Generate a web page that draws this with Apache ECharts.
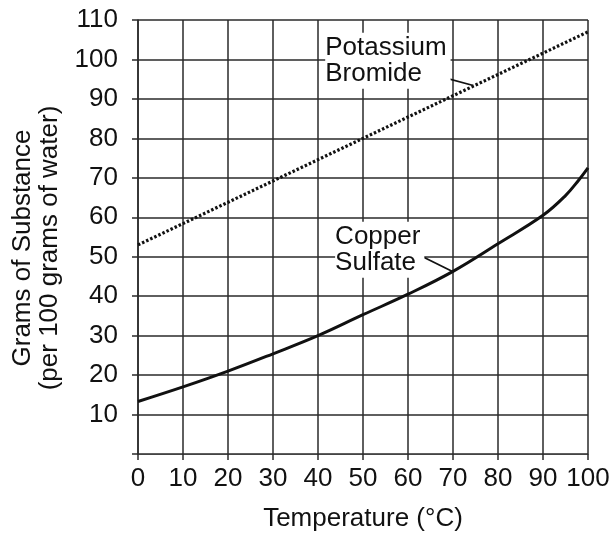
<!DOCTYPE html>
<html>
<head>
<meta charset="utf-8">
<script src="https://cdn.jsdelivr.net/npm/echarts@6/dist/echarts.min.js"></script>
<style>
  html, body { margin: 0; padding: 0; background: #fff; }
  #main { width: 615px; height: 542px; }
</style>
</head>
<body>
<div id="main"></div>
<script>
let chart = echarts.init(document.getElementById('main'));

// Potassium bromide (dotted, almost straight)
let kbrTemps = [0, 10, 20, 30, 40, 50, 60, 70, 80, 90, 100];
let kbrValues = [53, 58.4, 63.8, 69.2, 74.6, 80, 85.4, 90.8, 96.2, 101.6, 107];

// Copper sulfate (solid, curving up)
let cuTemps = [0, 10, 20, 30, 40, 50, 60, 70, 80, 90, 95, 98, 100];
let cuValues = [13.3, 17, 21, 25.4, 30, 35.3, 40.5, 46.3, 53.3, 60.5, 65.5, 69.5, 72.5];

let xTicks = [0, 10, 20, 30, 40, 50, 60, 70, 80, 90, 100];
let yTicks = [0, 10, 20, 30, 40, 50, 60, 70, 80, 90, 100, 110];

function pairs(xs, ys) {
    return xs.map(function (x, i) { return [x, ys[i]]; });
}

let font = 'Liberation Sans, Arial, Helvetica, sans-serif';
let ink = '#111';
let gridColor = '#2a2a2a';

// label text + leader line, in data units
function annotation(text, at, from, to) {
    return {
        markPoint: {
            silent: true,
            symbolSize: 0,
            label: {
                show: true,
                position: 'right',
                distance: 0,
                formatter: text,
                color: ink,
                fontFamily: font,
                fontSize: 26,
                lineHeight: 26,
                backgroundColor: '#fff',
                padding: [2, 4, 2, 0]
            },
            data: [{ coord: at }]
        },
        markLine: {
            silent: true,
            symbol: ['none', 'none'],
            label: { show: false },
            lineStyle: { color: ink, width: 1.8, type: 'solid' },
            data: [[{ coord: from }, { coord: to }]]
        }
    };
}

let kbrNote = annotation('Potassium\nBromide', [41.6, 99.7], [66.4, 95.9], [74.5, 93.4]);
let cuNote = annotation('Copper\nSulfate', [43.8, 51.8], [62.7, 50.3], [70, 46.2]);

let option = {
    animation: false,
    backgroundColor: '#fff',
    grid: { left: 138, right: 27, top: 20, bottom: 88 },
    xAxis: {
        type: 'value',
        min: xTicks[0],
        max: xTicks[xTicks.length - 1],
        interval: 10,
        name: 'Temperature (\u00B0C)',
        nameLocation: 'middle',
        nameGap: 52,
        nameTextStyle: { color: ink, fontFamily: font, fontSize: 26 },
        axisLine: { show: true, lineStyle: { color: '#444', width: 1.2 } },
        axisTick: { show: true, length: 6, lineStyle: { color: gridColor, width: 1.5 } },
        axisLabel: { color: ink, fontFamily: font, fontSize: 26, margin: 12 },
        splitLine: { show: true, lineStyle: { color: gridColor, width: 1.5 } }
    },
    yAxis: {
        type: 'value',
        min: yTicks[0],
        max: yTicks[yTicks.length - 1],
        interval: 10,
        name: 'Grams of Substance\n(per 100 grams of water)',
        nameLocation: 'middle',
        nameGap: 67,
        nameTextStyle: { color: ink, fontFamily: font, fontSize: 26, lineHeight: 27, padding: [0, 22, 0, 0] },
        axisLine: { show: true, lineStyle: { color: gridColor, width: 1.5 } },
        axisTick: { show: true, length: 6, lineStyle: { color: gridColor, width: 1.5 } },
        axisLabel: {
            color: ink, fontFamily: font, fontSize: 26, margin: 20,
            formatter: function (v) { return v === 0 ? '' : String(v); }
        },
        splitLine: { show: true, lineStyle: { color: gridColor, width: 1.5 } }
    },
    series: [
        Object.assign({
            name: 'Potassium Bromide',
            type: 'line',
            data: pairs(kbrTemps, kbrValues),
            showSymbol: false,
            symbol: 'none',
            lineStyle: { color: ink, width: 3.2, type: [2.5, 2] },
            z: 3
        }, kbrNote),
        Object.assign({
            name: 'Copper Sulfate',
            type: 'line',
            data: pairs(cuTemps, cuValues),
            smooth: 0.4,
            showSymbol: false,
            symbol: 'none',
            lineStyle: { color: ink, width: 3 },
            z: 3
        }, cuNote)
    ]
};

chart.setOption(option);
</script>
</body>
</html>
